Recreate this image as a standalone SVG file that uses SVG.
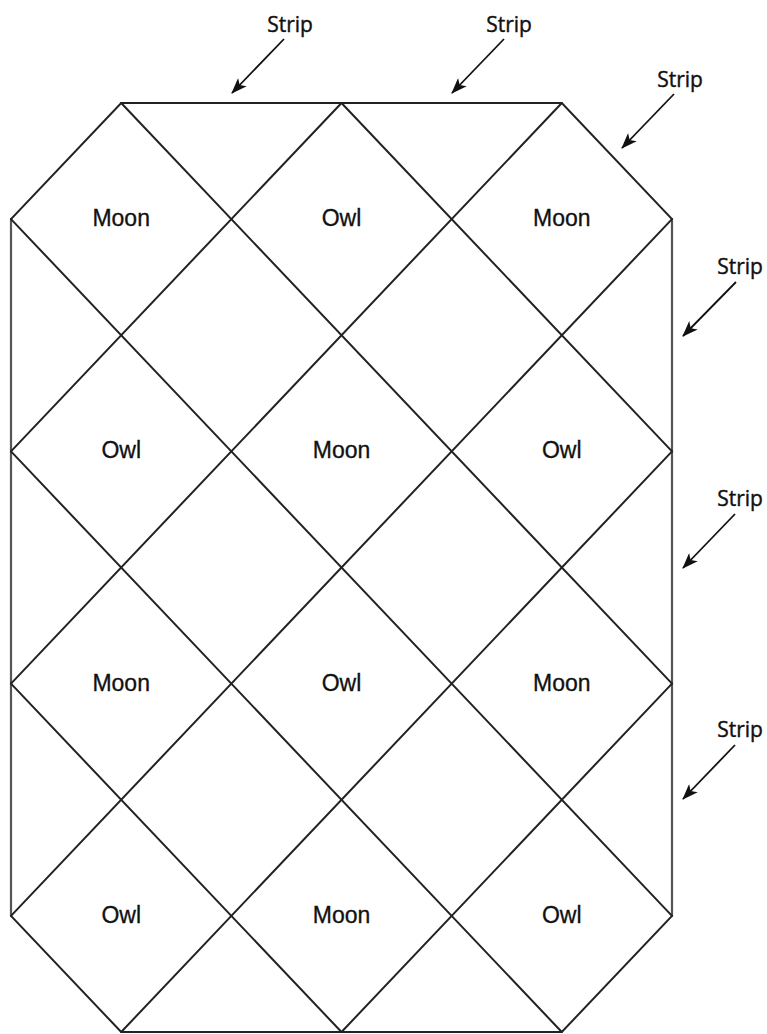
<svg xmlns="http://www.w3.org/2000/svg" width="767" height="1034" viewBox="0 0 767 1034">
<defs>
<style>
.grid{fill:none;stroke:#222;stroke-width:2;stroke-linecap:round;}
.edge{fill:none;stroke:#555;stroke-width:2.2;}
.lbl{font-family:"Liberation Sans",Arial,sans-serif;font-size:23px;fill:#111;stroke:#111;stroke-width:0.3;text-anchor:middle;}
.strip{font-family:"Open Sans","Noto Sans",sans-serif;font-size:21px;fill:#111;stroke:#111;stroke-width:0.4;text-anchor:middle;}
.arr{fill:none;stroke:#111;stroke-width:1.8;marker-end:url(#ah);}
</style>
<marker id="ah" viewBox="0 0 16 12" refX="15" refY="6" markerWidth="16" markerHeight="12" markerUnits="userSpaceOnUse" orient="auto">
<path d="M0,0 L16,6 L0,12 L4,6 z" fill="#111"/>
</marker>
</defs>
<rect width="767" height="1034" fill="#fff"/>
<g id="grid">
<polygon class="grid" points="121.2,103 561.8,103 672,219.1 672,915.9 561.8,1032 121.2,1032 11,915.9 11,219.1"/>
<line class="edge" x1="11" y1="219.1" x2="11" y2="915.9"/>
<line class="edge" x1="672" y1="219.1" x2="672" y2="915.9"/>
<line class="grid" x1="341.5" y1="103" x2="11" y2="451.4"/>
<line class="grid" x1="561.8" y1="103" x2="11" y2="683.6"/>
<line class="grid" x1="672" y1="219.1" x2="11" y2="915.9"/>
<line class="grid" x1="672" y1="451.4" x2="121.2" y2="1032"/>
<line class="grid" x1="672" y1="683.6" x2="341.5" y2="1032"/>
<line class="grid" x1="341.5" y1="103" x2="672" y2="451.4"/>
<line class="grid" x1="121.2" y1="103" x2="672" y2="683.6"/>
<line class="grid" x1="11" y1="219.1" x2="672" y2="915.9"/>
<line class="grid" x1="11" y1="451.4" x2="561.8" y2="1032"/>
<line class="grid" x1="11" y1="683.6" x2="341.5" y2="1032"/>
</g>
<g id="block-r1c1"><text class="lbl" x="121.2" y="226">Moon</text></g>
<g id="block-r1c2"><text class="lbl" x="341.5" y="226">Owl</text></g>
<g id="block-r1c3"><text class="lbl" x="561.8" y="226">Moon</text></g>
<g id="block-r2c1"><text class="lbl" x="121.2" y="458">Owl</text></g>
<g id="block-r2c2"><text class="lbl" x="341.5" y="458">Moon</text></g>
<g id="block-r2c3"><text class="lbl" x="561.8" y="458">Owl</text></g>
<g id="block-r3c1"><text class="lbl" x="121.2" y="690.5">Moon</text></g>
<g id="block-r3c2"><text class="lbl" x="341.5" y="690.5">Owl</text></g>
<g id="block-r3c3"><text class="lbl" x="561.8" y="690.5">Moon</text></g>
<g id="block-r4c1"><text class="lbl" x="121.2" y="923">Owl</text></g>
<g id="block-r4c2"><text class="lbl" x="341.5" y="923">Moon</text></g>
<g id="block-r4c3"><text class="lbl" x="561.8" y="923">Owl</text></g>
<g id="strip-1"><text class="strip" x="290" y="32">Strip</text></g>
<g id="strip-2"><text class="strip" x="509" y="32">Strip</text></g>
<g id="strip-3"><text class="strip" x="680" y="87">Strip</text></g>
<g id="strip-4"><text class="strip" x="740" y="274">Strip</text></g>
<g id="strip-5"><text class="strip" x="740" y="506">Strip</text></g>
<g id="strip-6"><text class="strip" x="740" y="737">Strip</text></g>
<g id="connectors">
<line class="arr" x1="284" y1="39" x2="232" y2="93"/>
<line class="arr" x1="504" y1="39" x2="452" y2="93"/>
<line class="arr" x1="674" y1="94" x2="622" y2="148"/>
<line class="arr" x1="736" y1="282" x2="683" y2="336"/>
<line class="arr" x1="735" y1="514" x2="683" y2="568"/>
<line class="arr" x1="735" y1="745" x2="683" y2="799"/>
</g>
</svg>
